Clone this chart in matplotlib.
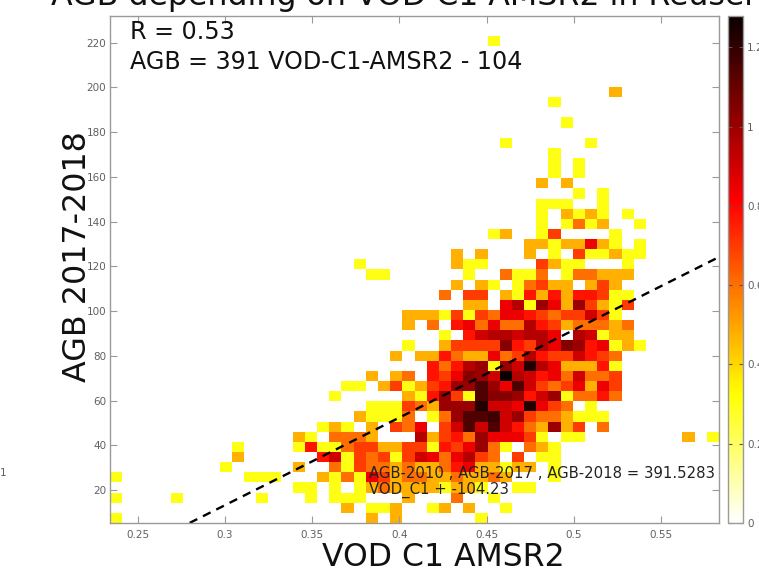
import numpy as np
import matplotlib
matplotlib.use('Agg')
import matplotlib.pyplot as plt

W, H = 759, 571

# bin counts per cell, top row first. '.' is empty, a=10, b=11 ... j=19
count_rows = [
    ".......... .......... .......... .......... ..........",
    ".......... .......... .......... .......... ..........",
    ".......... .......... .......... .2........ ..........",
    ".......... .......... .......... .......... ..........",
    ".......... .......... .......... .......... ..........",
    ".......... .......... .......... .......... ..........",
    ".......... .......... .......... .......... ..........",
    ".......... .......... .......... .......... .3........",
    ".......... .......... .......... ......2... ..........",
    ".......... .......... .......... .......... ..........",
    ".......... .......... .......... .......2.. ..........",
    ".......... .......... .......... .......... ..........",
    ".......... .......... .......... ..2......2 ..........",
    ".......... .......... .......... ......2... ..........",
    ".......... .......... .......... ......2.2. ..........",
    ".......... .......... .......... ......2.2. ..........",
    ".......... .......... .......... .....3.3.. ..........",
    ".......... .......... .......... ........2. 2.........",
    ".......... .......... .......... .....222.. 2.........",
    ".......... .......... .......... .....2.323 2.2.......",
    ".......... .......... .......... .....2.242 3..2......",
    ".......... .......... .......... .23..25... .2........",
    ".......... .......... .......... ....332337 32.2......",
    ".......... .......... ........3. 3...3.2.52 2322......",
    ".......... .......... 2.......32 2....5322. ..2.......",
    ".......... .......... .22......2 ..4224.244 333.......",
    ".......... .......... ........3. 32.24533.3 53........",
    ".......... .......... .......4.5 5.32636366 522.......",
    ".......... .......... .........3 3.792a73a5 325.......",
    ".......... .......... ....333252 5477654558 52........",
    ".......... .......... ....3.4.67 4744965344 434.......",
    ".......... .......... .......2.6 8998997.98 233.......",
    ".......... .......... ....2..355 55b6597ba6 7232......",
    ".......... .......... ...3.33643 3745965586 54........",
    ".......... .......... ......6469 a2a8h97333 62........",
    ".......... .......... .3.34.657b a8j9867484 45........",
    ".......... .........2 2.352356aa ea7e854573 75........",
    ".......... ........2. ....326a52 ebba68a244 64........",
    ".......... .......... .222543aaa h887h754.2 ..........",
    ".......... .......... 32224.24ae ef8a544322 2.........",
    ".......... .......232 .3.547.58e 8e8643a35. 4.........",
    ".......... .....32.44 43...93564 a77752.22. .......3.2",
    ".......... 2....26224 5533552657 a42.432... ..........",
    ".......... 3......682 5452587479 54.5.22... ..........",
    ".........2 .....3..42 5443433467 33233.2... ..........",
    "2......... .222...324 2753443343 343...2... ..........",
    ".......... .....22.2. 2343333233 2..22..... ..........",
    "2....2.... ..2...2.22 2...3...4. .2........ ..........",
    ".......... .........3 .223..23.3 ..2....... ..........",
    "2......... .......... .3.3...... 2......... ..........",
]

slope = 391.5283
intercept = -104.23
fit_x = [0.2797, 0.6]

x_range = [0.234, 0.5833]
y_range = [5.24, 231.9]
x_ticks = [0.25, 0.3, 0.35, 0.4, 0.45, 0.5, 0.55]
x_tick_labels = ['0.25', '0.3', '0.35', '0.4', '0.45', '0.5', '0.55']
y_ticks = [20, 40, 60, 80, 100, 120, 140, 160, 180, 200, 220]
c_ticks = [0, 0.2, 0.4, 0.6, 0.8, 1, 1.2]
c_tick_labels = ['0', '0.2', '0.4', '0.6', '0.8', '1', '1.2']
c_max = 1.279

# turn the strings into log10(count)
counts = np.ones((50, 50))
for r, row in enumerate(count_rows):
    for c, ch in enumerate(row.replace(' ', '')):
        if ch != '.':
            counts[49 - r, c] = int(ch, 36)
log_counts = np.log10(counts)


def px_axes(fig, left, top, right, bottom):
    return fig.add_axes([left / W, 1 - bottom / H, (right - left) / W, (bottom - top) / H])


def px_text(x, y, s, **kw):
    fig.text(x / W, 1 - y / H, s, **kw)


grey = '#9a9a9a'
label_grey = '#606060'

fig = plt.figure(figsize=(W / 100, H / 100), dpi=100)
ax = px_axes(fig, 110, 16, 719, 523)

x_edges = np.linspace(x_range[0], x_range[1], 51)
y_edges = np.linspace(y_range[0], y_range[1], 51)
mesh = ax.pcolormesh(x_edges, y_edges, log_counts, cmap='hot_r', vmin=0, vmax=c_max)

line_x = np.array(fit_x)
ax.plot(line_x, slope * line_x + intercept, color='black', lw=1.7, ls=(0, (3.6, 2.7)))

ax.set_xlim(x_range)
ax.set_ylim(y_range)
ax.set_xticks(x_ticks, x_tick_labels)
ax.set_yticks(y_ticks)
ax.tick_params(direction='in', top=True, right=True, length=5, width=0.8, color=grey,
               labelsize=7.5, labelcolor=label_grey)
ax.tick_params(axis='x', pad=5)
ax.tick_params(axis='y', pad=2.8)
for s in ax.spines.values():
    s.set_color(grey)
    s.set_linewidth(1)

cax = px_axes(fig, 728, 16, 743, 523)
cb = fig.colorbar(mesh, cax=cax)
cb.set_ticks(c_ticks, labels=c_tick_labels)
cax.tick_params(direction='in', left=True, right=True, length=3, width=0.8, color='#555555',
                labelsize=7.5, labelcolor=label_grey, pad=3)
cb.outline.set_edgecolor(grey)
cb.outline.set_linewidth(1)

px_text(130, 32, 'R = 0.53', fontsize=17.1, va='center', color='#111111')
px_text(130, 62, 'AGB = 391 VOD-C1-AMSR2 - 104', fontsize=17.1, va='center', color='#111111')
px_text(369, 473, 'AGB-2010 , AGB-2017 , AGB-2018 = 391.5283', fontsize=10.7, va='center', color='#222222')
px_text(369, 490, 'VOD_C1 + -104.23', fontsize=10.7, va='center', color='#222222')
px_text(443, 558, 'VOD C1 AMSR2', fontsize=22.7, ha='center', va='center', color='#111111')
px_text(77, 257, 'AGB 2017-2018', fontsize=22.9, rotation=90, ha='center', va='center', color='#111111')
px_text(51, 5, 'AGB depending on VOD C1 AMSR2 in Reuser', fontsize=22.8, ha='left', va='baseline', color='#111111')
px_text(0, 473, '1', fontsize=7.5, ha='left', va='center', color=label_grey)

fig.savefig('out.png', dpi=100)
